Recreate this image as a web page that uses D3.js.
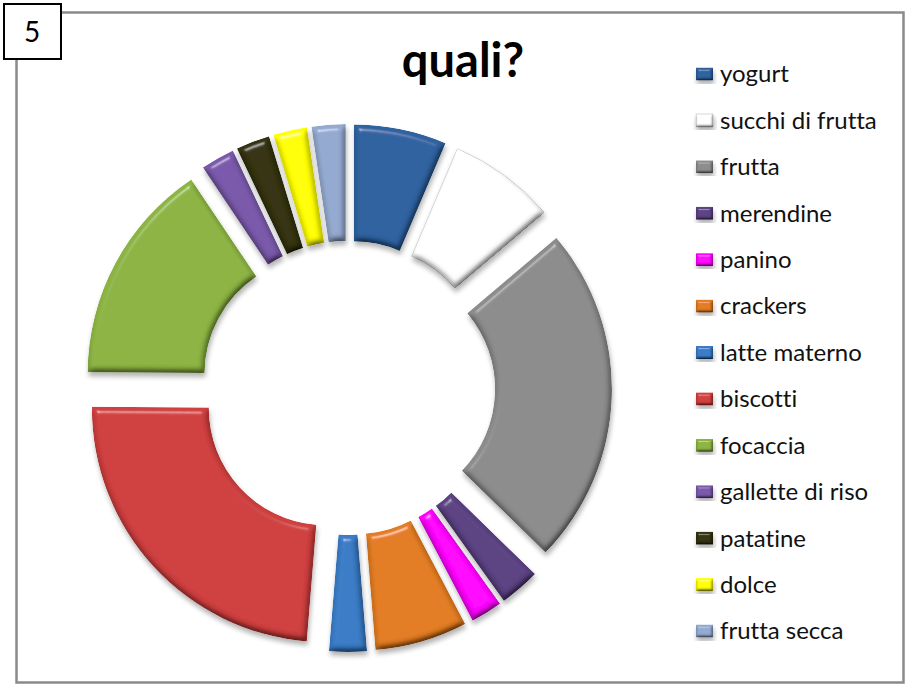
<!DOCTYPE html>
<html>
<head>
<meta charset="utf-8">
<script src="https://cdn.jsdelivr.net/npm/d3@7"></script>
<style>
  body { margin: 0; background: #fff; }
  text { font-family: Lato, "Open Sans", sans-serif; font-variant-ligatures: none; }
</style>
</head>
<body>
<script>
// values (share of answers, percent)
const categories = ['yogurt', 'succhi di frutta', 'frutta', 'merendine', 'panino', 'crackers',
  'latte materno', 'biscotti', 'focaccia', 'gallette di riso', 'patatine', 'dolce', 'frutta secca'];
const values = [6.4, 7.4, 23.5, 2.8, 2.2, 6.4, 2.6, 23.8, 15.5, 2.35, 2.35, 2.35, 2.35];
const colors = ['#2f62a0', '#ffffff', '#8c8c8c', '#5c4283', '#ff00ff', '#e27c22',
  '#3a7cc6', '#cf3f3f', '#8cb443', '#7a59aa', '#34330f', '#ffff00', '#94a9cf'];

const width = 906, height = 684;

const svg = d3.select('body').append('svg')
  .attr('width', width)
  .attr('height', height);

const defs = svg.append('defs');

// rough bevel: lighting on blurred alpha, multiplied with the fill, plus a soft shadow
function bevel(id, blur, scale) {
  const f = defs.append('filter').attr('id', id)
    .attr('x', '-20%').attr('y', '-20%').attr('width', '140%').attr('height', '140%');
  f.append('feGaussianBlur').attr('in', 'SourceAlpha').attr('stdDeviation', blur).attr('result', 'b');
  f.append('feDiffuseLighting').attr('in', 'b').attr('surfaceScale', scale)
    .attr('diffuseConstant', 1.155).attr('lighting-color', '#fff').attr('result', 'd')
    .append('feDistantLight').attr('azimuth', 250).attr('elevation', 60);
  f.append('feComposite').attr('in', 'SourceGraphic').attr('in2', 'd')
    .attr('operator', 'arithmetic').attr('k1', 1).attr('k2', 0).attr('k3', 0).attr('k4', 0)
    .attr('result', 'm');
  f.append('feSpecularLighting').attr('in', 'b').attr('surfaceScale', scale)
    .attr('specularConstant', 0.35).attr('specularExponent', 60).attr('lighting-color', '#fff')
    .attr('result', 's')
    .append('feDistantLight').attr('azimuth', 250).attr('elevation', 45);
  f.append('feComposite').attr('in', 's').attr('in2', 'SourceAlpha').attr('operator', 'in').attr('result', 'si');
  f.append('feComposite').attr('in', 'm').attr('in2', 'si')
    .attr('operator', 'arithmetic').attr('k1', 0).attr('k2', 1).attr('k3', 1).attr('k4', 0)
    .attr('result', 'lit');
  f.append('feComposite').attr('in', 'lit').attr('in2', 'SourceAlpha').attr('operator', 'in').attr('result', 'face');
  f.append('feGaussianBlur').attr('in', 'SourceAlpha').attr('stdDeviation', 2.5).attr('result', 'sb');
  f.append('feOffset').attr('in', 'sb').attr('dx', 1).attr('dy', 4).attr('result', 'so');
  f.append('feComponentTransfer').attr('in', 'so').attr('result', 'sh')
    .append('feFuncA').attr('type', 'linear').attr('slope', 0.3);
  const m = f.append('feMerge');
  m.append('feMergeNode').attr('in', 'sh');
  m.append('feMergeNode').attr('in', 'face');
}
bevel('bevel', 3, 5);
bevel('bevelSmall', 1.5, 3);

// frame
svg.append('rect')
  .attr('x', 16.5).attr('y', 12.5)
  .attr('width', 887).attr('height', 670)
  .attr('fill', '#fff')
  .attr('stroke', '#8a8a8a')
  .attr('stroke-width', 2.5);

// number box
svg.append('rect')
  .attr('x', 4).attr('y', 4)
  .attr('width', 57).attr('height', 55)
  .attr('fill', '#fff')
  .attr('stroke', '#000')
  .attr('stroke-width', 2);
svg.append('text')
  .attr('x', 32).attr('y', 42)
  .attr('text-anchor', 'middle')
  .attr('font-size', 28)
  .text('5');

// title
svg.append('text')
  .attr('x', 463).attr('y', 77)
  .attr('text-anchor', 'middle')
  .attr('font-size', 47)
  .attr('font-weight', 'bold')
  .text('quali?');

// doughnut
const cx = 348, cy = 388;
const outerR = 234, innerR = 117, explode = 30;

const pie = d3.pie().sort(null).value(d => d);
const arc = d3.arc().innerRadius(innerR).outerRadius(outerR);
const color = d3.scaleOrdinal().domain(categories).range(colors);

const g = svg.append('g').attr('transform', `translate(${cx},${cy})`);

g.selectAll('path')
  .data(pie(values))
  .join('path')
  .attr('d', arc)
  .attr('transform', d => {
    const mid = (d.startAngle + d.endAngle) / 2;
    return `translate(${explode * Math.sin(mid)},${-explode * Math.cos(mid)})`;
  })
  .attr('fill', (d, i) => color(categories[i]))
  .attr('stroke', (d, i) => i === 1 ? '#d4d4d4' : 'none')
  .attr('stroke-width', 1)
  .attr('filter', 'url(#bevel)');

// legend
const legendY = d3.scalePoint().domain(categories).range([74, 631]);

const legend = svg.append('g');
const item = legend.selectAll('g')
  .data(categories)
  .join('g')
  .attr('transform', d => `translate(696,${legendY(d)})`);

item.append('rect')
  .attr('x', 0).attr('y', -6.5)
  .attr('width', 17).attr('height', 13)
  .attr('fill', d => color(d))
  .attr('stroke', d => d === 'succhi di frutta' ? '#ccc' : 'none')
  .attr('filter', 'url(#bevelSmall)');

item.append('text')
  .attr('x', 24).attr('y', 0)
  .attr('dy', '0.35em')
  .attr('font-size', 24)
  .attr('fill', '#111')
  .text(d => d);
</script>
</body>
</html>
